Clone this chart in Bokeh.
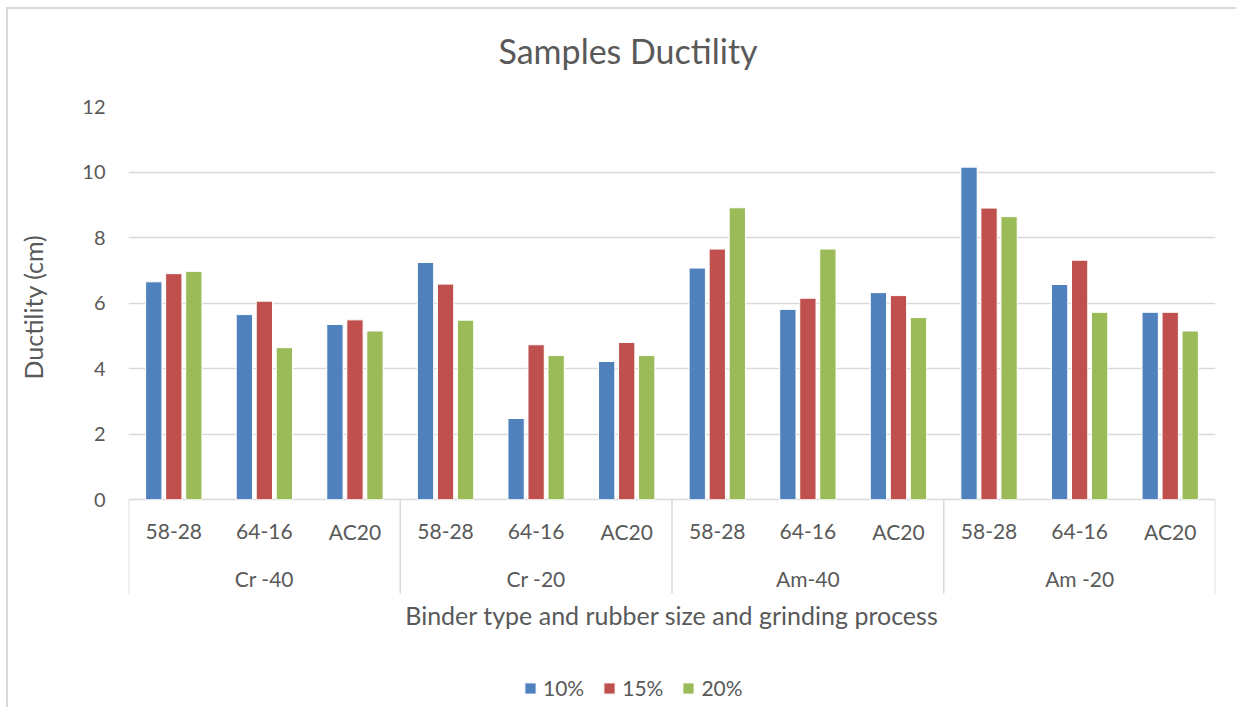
from bokeh.plotting import figure
from bokeh.models import FactorRange, Range1d, FixedTicker, ColumnDataSource, Title
from bokeh.transform import dodge
from bokeh.core.properties import value
from bokeh.embed import file_html
from bokeh.resources import INLINE

# ---- data ----
groups = ["Cr -40", "Cr -20", "Am-40", "Am -20"]
binders = ["58-28", "64-16", "AC20"]
series = ["10%", "15%", "20%"]
pct10 = [6.65, 5.65, 5.35, 7.24, 2.48, 4.22, 7.07, 5.81, 6.32, 10.15, 6.57, 5.72]
pct15 = [6.90, 6.06, 5.49, 6.58, 4.73, 4.80, 7.65, 6.15, 6.23, 8.90, 7.31, 5.72]
pct20 = [6.97, 4.64, 5.15, 5.48, 4.40, 4.40, 8.91, 7.65, 5.56, 8.64, 5.72, 5.15]
y_ticks = [0, 2, 4, 6, 8, 10, 12]
colors = ["#4F81BD", "#C0504D", "#9BBB59"]

TXT = "#595959"
GRID = "#d9d9d9"
FONT = "Lato"

factors = [(g, b) for g in groups for b in binders]
src = ColumnDataSource(dict(x=factors, s10=pct10, s15=pct15, s20=pct20))

p = figure(width=1230, height=700,
           x_range=FactorRange(*factors, group_padding=0, factor_padding=0,
                               subgroup_padding=0, range_padding=0),
           y_range=Range1d(-6.4, 12),
           x_axis_location=None,
           output_backend="svg", toolbar_location=None,
           min_border_left=120, min_border_right=23,
           min_border_top=97, min_border_bottom=0)
p.styles = {"border-top": "2px solid #d9d9d9", "border-left": "2px solid #d9d9d9",
            "margin-left": "6px", "margin-top": "7px"}
p.outline_line_color = None
p.background_fill_color = "white"
p.border_fill_color = "white"
p.xgrid.grid_line_color = None

# y axis
ticker = FixedTicker(ticks=y_ticks)
p.yaxis.ticker = ticker
p.ygrid.ticker = ticker
p.ygrid.grid_line_color = GRID
p.ygrid.grid_line_width = 1.5
p.yaxis.axis_line_color = None
p.yaxis.major_tick_line_color = None
p.yaxis.minor_tick_line_color = None
p.yaxis.major_tick_out = 0
p.yaxis.major_tick_in = 0
p.yaxis.major_label_standoff = 23
p.yaxis.major_label_text_font = FONT
p.yaxis.major_label_text_font_size = "20px"
p.yaxis.major_label_text_color = TXT

# bars
keys = ["s10", "s15", "s20"]
offs = [-0.221, 0.0, 0.221]
for k, o, c, name in zip(keys, offs, colors, series):
    p.vbar(x=dodge("x", o, range=p.x_range), top=k, width=0.18, bottom=0,
           source=src, fill_color=c, line_color="white", line_width=1,
           legend_label=name)

# category axis: separators and labels
n_sub = len(binders)
sep_x = [i * n_sub for i in range(len(groups) + 1)]
p.segment(x0=sep_x, x1=sep_x, y0=[0] * len(sep_x), y1=[-2.86] * len(sep_x),
          line_color=GRID, line_width=1.5)
p.text(x=factors, y=[-0.97] * len(factors), text=[f[1] for f in factors],
       text_align="center", text_baseline="middle",
       text_font=value(FONT), text_font_size="21px", text_color=TXT)
p.text(x=groups, y=[-2.40] * len(groups), text=groups,
       text_align="center", text_baseline="middle",
       text_font=value(FONT), text_font_size="21px", text_color=TXT)
p.text(x=[len(factors) / 2], y=[-3.53],
       text=["Binder type and rubber size and grinding process"],
       text_align="center", text_baseline="middle",
       text_font=value(FONT), text_font_size="25px", text_color=TXT)

# y axis title (with a blank spacer between it and the tick labels)
p.add_layout(Title(text=" ", standoff=26, text_font_size="2px"), "left")
p.add_layout(Title(text="Ductility (cm)", align="left", offset=330,
                   vertical_align="top", standoff=0,
                   text_font=FONT, text_font_size="25px",
                   text_font_style="normal", text_color=TXT), "left")

# chart title (with a blank spacer between it and the plot area)
p.add_layout(Title(text=" ", standoff=31, text_font_size="2px"), "above")
p.add_layout(Title(text="Samples Ductility", align="left", offset=370,
                   vertical_align="middle", standoff=0,
                   text_font=FONT, text_font_size="34px",
                   text_font_style="normal", text_color=TXT), "above")

# legend
lg = p.legend[0]
lg.orientation = "horizontal"
lg.location = (395, 9)
lg.glyph_width = 14
lg.glyph_height = 14
lg.label_standoff = 6
lg.spacing = 18
lg.padding = 0
lg.margin = 0
lg.border_line_color = None
lg.background_fill_alpha = 0
lg.label_text_font = FONT
lg.label_text_font_size = "21px"
lg.label_text_color = TXT

open("out.html", "w").write(file_html(p, INLINE))
